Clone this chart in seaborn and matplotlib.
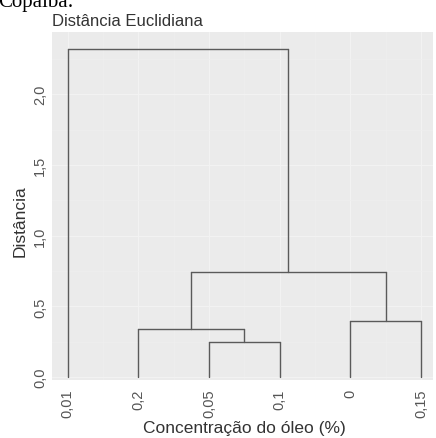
import pandas as pd
import seaborn as sns
from matplotlib import pyplot as plt
from matplotlib.ticker import FixedLocator, MultipleLocator

leaves = ['0,01', '0,2', '0,05', '0,1', '0', '0,15']
# merges in order: leaf index (>= 0) or earlier merge (-1 = first merge, -2 = second, ...)
merge_left = [2, 1, 4, -2, 0]
merge_right = [3, -1, 5, -3, -4]
merge_height = [0.25, 0.34, 0.40, 0.74, 2.32]
y_ticks = [0.0, 0.5, 1.0, 1.5, 2.0]
y_tick_labels = ['0,0', '0,5', '1,0', '1,5', '2,0']

# build dendrogram segments
nodes = []
def pos(k):
    if k >= 0:
        return k + 1, 0.0
    return nodes[-k - 1]

rows = []
seg = 0
for l, r, h in zip(merge_left, merge_right, merge_height):
    (lx, ly), (rx, ry) = pos(l), pos(r)
    for x0, y0 in [(lx, ly), (rx, ry)]:
        rows += [dict(seg=seg, x=x0, y=y0), dict(seg=seg, x=x0, y=h)]
        seg += 1
    rows += [dict(seg=seg, x=lx, y=h), dict(seg=seg, x=rx, y=h)]
    seg += 1
    nodes.append(((lx + rx) / 2, h))
df = pd.DataFrame(rows)

sns.set_theme(style='darkgrid', rc={
    'axes.facecolor': '#EBEBEB',
    'grid.color': '#F2F2F2',
    'grid.linewidth': 0.8,
})
plt.rcParams['font.family'] = ['Liberation Sans', 'DejaVu Sans']

fig = plt.figure(figsize=(4.36, 4.39), dpi=100)
ax = fig.add_axes([52 / 436, 1 - 381 / 439, 381 / 436, 348 / 439])
sns.lineplot(data=df, x='x', y='y', units='seg', estimator=None, sort=False,
             color='#5A5A5A', linewidth=1.0, ax=ax)

ax.set_xlim(0.78, 6.17)
ax.set_ylim(-0.02, 2.44)
ax.set_xticks(range(1, len(leaves) + 1), leaves)
ax.set_yticks(y_ticks, y_tick_labels)
ax.tick_params(axis='both', labelsize=10.5, labelcolor='#555555', labelrotation=90)
for t in ax.get_yticklabels():
    t.set_va('center')
ax.yaxis.set_minor_locator(MultipleLocator(0.25))
ax.xaxis.set_minor_locator(FixedLocator([1.5, 2.5, 3.5, 4.5, 5.5]))
ax.grid(which='minor', color='#EFEFEF', linewidth=0.5)
ax.tick_params(axis='both', length=3, width=0.6, color='#444444')
ax.tick_params(axis='x', pad=3)
ax.tick_params(axis='y', pad=0.5)
ax.tick_params(axis='both', which='minor', length=0)
for s in ax.spines.values():
    s.set_visible(False)

ax.set_xlabel('Concentração do óleo (%)', fontsize=12.5, color='#333333')
ax.set_ylabel('Distância', fontsize=12.5, color='#333333')
ax.xaxis.set_label_coords((244 - 52) / 381, -(429 - 381) / 348)
ax.yaxis.set_label_coords(-(52 - 20) / 381, (381 - 221) / 348)
ax.xaxis.label.set_va('center')
ax.yaxis.label.set_va('center')

fig.text(52 / 436, 1 - 21 / 439, 'Distância Euclidiana', fontsize=12,
         color='#333333', va='center', ha='left')
fig.text(-0.004, 1 - 7 / 439, 'Copaíba:', fontsize=15, family='Liberation Serif',
         color='black', va='baseline', ha='left')

fig.savefig('out.png', dpi=100)
